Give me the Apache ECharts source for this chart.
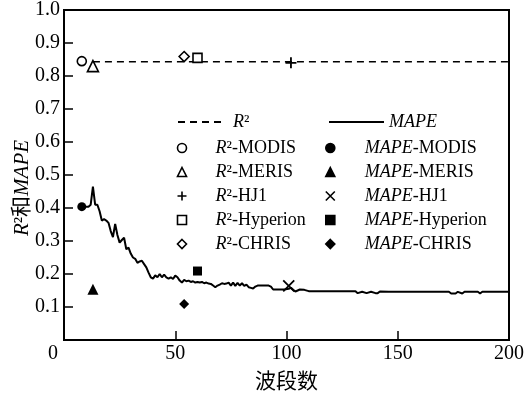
<!DOCTYPE html>
<html>
<head>
<meta charset="utf-8">
<script src="https://cdn.jsdelivr.net/npm/echarts@6/dist/echarts.min.js"></script>
<style>
html, body { margin: 0; padding: 0; background: #fff; }
#chart { width: 528px; height: 394px; }
</style>
</head>
<body>
<div id="chart"></div>
<script>
// sensors, order as in the legend
const sensors = ['MODIS', 'MERIS', 'HJ1', 'Hyperion', 'CHRIS'];
const r2SensorBands = [8, 13, 102, 60, 54];
const r2SensorValues = [0.845, 0.83, 0.84, 0.855, 0.859];
const mapeSensorBands = [8, 13, 101, 60, 54];
const mapeSensorValues = [0.404, 0.154, 0.164, 0.209, 0.109];

// R2 curve (flat)
const r2Bands = [13, 200];
const r2Values = [0.843, 0.843];

// MAPE curve
const mapeBands = [9, 10, 11, 12, 13, 14, 15, 16, 17, 18, 19, 20, 21, 22, 23, 24, 25, 26, 27, 28, 29, 30,
    31, 32, 33, 34, 35, 36, 37, 38, 39, 40, 41, 42, 43, 44, 45, 46, 47, 48, 49, 50, 51, 52, 53, 54, 55,
    56, 57, 58, 59, 60, 61, 62, 63, 64, 65, 66, 67, 68, 69, 70, 71, 72, 73, 74, 75, 76, 77, 78, 79, 80,
    81, 82, 83, 84, 85, 86, 87, 88, 92, 93, 94, 99, 101, 102, 103, 104, 105, 106, 108, 110, 131, 132,
    134, 136, 138, 140, 141, 142, 146, 173, 174, 176, 177, 179, 180, 186, 187, 188, 200];
const mapeValues = [0.404, 0.404, 0.404, 0.41, 0.465, 0.41, 0.41, 0.39, 0.362, 0.366, 0.362, 0.355,
    0.33, 0.312, 0.352, 0.318, 0.295, 0.303, 0.31, 0.275, 0.28, 0.262, 0.25, 0.246, 0.234, 0.238, 0.24,
    0.23, 0.22, 0.204, 0.19, 0.186, 0.196, 0.19, 0.2, 0.19, 0.198, 0.19, 0.186, 0.19, 0.185, 0.195,
    0.19, 0.18, 0.174, 0.182, 0.178, 0.18, 0.176, 0.178, 0.174, 0.176, 0.174, 0.176, 0.172, 0.174,
    0.171, 0.17, 0.165, 0.16, 0.165, 0.168, 0.172, 0.17, 0.171, 0.174, 0.165, 0.174, 0.164, 0.173,
    0.165, 0.172, 0.164, 0.168, 0.16, 0.158, 0.156, 0.162, 0.165, 0.165, 0.165, 0.162, 0.153, 0.153,
    0.155, 0.158, 0.152, 0.147, 0.15, 0.153, 0.152, 0.148, 0.148, 0.142, 0.146, 0.142, 0.146, 0.142,
    0.142, 0.147, 0.146, 0.146, 0.141, 0.141, 0.146, 0.141, 0.146, 0.146, 0.141, 0.146, 0.146];

const xTicks = [0, 50, 100, 150, 200];

const serif = "'Liberation Serif', 'Noto Sans CJK SC'";
const plusPath = 'path://M0,5L10,5M5,0L5,10';
const crossPath = 'path://M0,0L10,10M10,0L0,10';
const r2Symbols = ['circle', 'triangle', plusPath, 'rect', 'diamond'];
const mapeSymbols = ['circle', 'triangle', crossPath, 'rect', 'diamond'];
const symbolSizes = [9, 11, 11, 9, 10];

const zip = (a, b) => a.map((v, i) => [v, b[i]]);

let series = [
    {
        name: 'R2',
        type: 'line',
        data: zip(r2Bands, r2Values),
        symbol: 'none',
        color: '#000',
        lineStyle: { color: '#000', width: 1.5, type: [7, 5] },
        z: 2
    },
    {
        name: 'MAPE',
        type: 'line',
        data: zip(mapeBands, mapeValues),
        symbol: 'none',
        color: '#000',
        lineStyle: { color: '#000', width: 2 },
        z: 2
    }
];
sensors.forEach(function (s, i) {
    series.push({
        name: 'R2-' + s,
        type: 'scatter',
        data: [[r2SensorBands[i], r2SensorValues[i]]],
        symbol: r2Symbols[i],
        symbolSize: symbolSizes[i],
        itemStyle: { color: i === 2 ? 'none' : '#fff', borderColor: '#000', borderWidth: i === 2 ? 1.8 : 1.6, opacity: 1 },
        z: 4
    });
});
sensors.forEach(function (s, i) {
    series.push({
        name: 'MAPE-' + s,
        type: 'scatter',
        data: [[mapeSensorBands[i], mapeSensorValues[i]]],
        symbol: mapeSymbols[i],
        symbolSize: symbolSizes[i],
        itemStyle: { color: '#000', borderColor: '#000', borderWidth: i === 2 ? 1.8 : 0, opacity: 1 },
        z: 4
    });
});

const legendText = { color: '#000', fontFamily: serif, fontSize: 18, lineHeight: 18 };
const legendRich = (sp) => ({
    i: { fontStyle: 'italic', fontFamily: serif, fontSize: 18, color: '#000' },
    sp: { width: sp }
});
const fmtName = function (name) {
    let parts = name.split('-');
    let head = parts[0] === 'R2' ? '{i|R}²' : '{i|MAPE}';
    return '{sp|}' + head + (parts[1] ? '-' + parts[1] : '');
};

let option = {
    animation: false,
    grid: {
        left: 64, right: 19, top: 10, bottom: 54, outerBoundsMode: 'none', containLabel: false,
        show: true, borderColor: '#000', borderWidth: 2
    },
    legend: [
        {
            data: ['R2'], left: 177, top: 113, padding: 0, itemWidth: 45, itemHeight: 12,
            selectedMode: false, formatter: fmtName,
            itemStyle: { color: 'rgba(0,0,0,0)', borderWidth: 0 },
            textStyle: Object.assign({ rich: legendRich(5) }, legendText)
        },
        {
            data: ['MAPE'], left: 328, top: 113, padding: 0, itemWidth: 55, itemHeight: 12,
            selectedMode: false, formatter: fmtName,
            itemStyle: { color: 'rgba(0,0,0,0)', borderWidth: 0 },
            textStyle: Object.assign({ rich: legendRich(0) }, legendText)
        },
        {
            data: sensors.map(s => 'R2-' + s), left: 175, top: 139, padding: 0, orient: 'vertical',
            itemWidth: 9, itemHeight: 9, itemGap: 6, selectedMode: false, formatter: fmtName,
            itemStyle: { borderWidth: 1.6 },
            textStyle: Object.assign({ rich: legendRich(24) }, legendText)
        },
        {
            data: sensors.map(s => 'MAPE-' + s), left: 325, top: 139, padding: 0, orient: 'vertical',
            itemWidth: 9, itemHeight: 9, itemGap: 6, selectedMode: false, formatter: fmtName,
            itemStyle: { borderWidth: 1.6 },
            textStyle: Object.assign({ rich: legendRich(25) }, legendText)
        }
    ],
    xAxis: {
        type: 'value',
        min: xTicks[0],
        max: xTicks[xTicks.length - 1],
        interval: 50,
        name: '波段数',
        nameLocation: 'middle',
        nameGap: 30,
        nameTextStyle: { color: '#000', fontFamily: "'Noto Sans CJK SC'", fontSize: 21 },
        axisLine: { lineStyle: { color: '#000', width: 2 } },
        axisTick: { inside: true, length: 9, lineStyle: { color: '#000', width: 1.5 } },
        splitLine: { show: false },
        axisLabel: {
            color: '#000', fontFamily: serif, fontSize: 20, margin: 4,
            formatter: v => v === 0 ? '{z|0}' : String(v),
            rich: { z: { padding: [0, 22, 0, 0] } }
        }
    },
    yAxis: {
        type: 'value',
        min: 0,
        max: 1,
        interval: 0.1,
        name: '{i|R}²和{i|MAPE}',
        nameLocation: 'middle',
        nameGap: 31,
        nameMoveOverlap: false,
        nameTextStyle: {
            color: '#000', fontFamily: serif, fontSize: 21, padding: [0, 26, 0, 0],
            rich: { i: { fontStyle: 'italic', fontFamily: serif, fontSize: 21, color: '#000' } }
        },
        axisLine: { lineStyle: { color: '#000', width: 2 } },
        axisTick: { inside: true, length: 9, lineStyle: { color: '#000', width: 1.5 } },
        splitLine: { show: false },
        axisLabel: {
            color: '#000', fontFamily: serif, fontSize: 20, margin: 4,
            formatter: v => v === 0 ? '' : v.toFixed(1)
        }
    },
    series: series
};

let mychart = echarts.init(document.getElementById('chart'));
mychart.setOption(option);
</script>
</body>
</html>
